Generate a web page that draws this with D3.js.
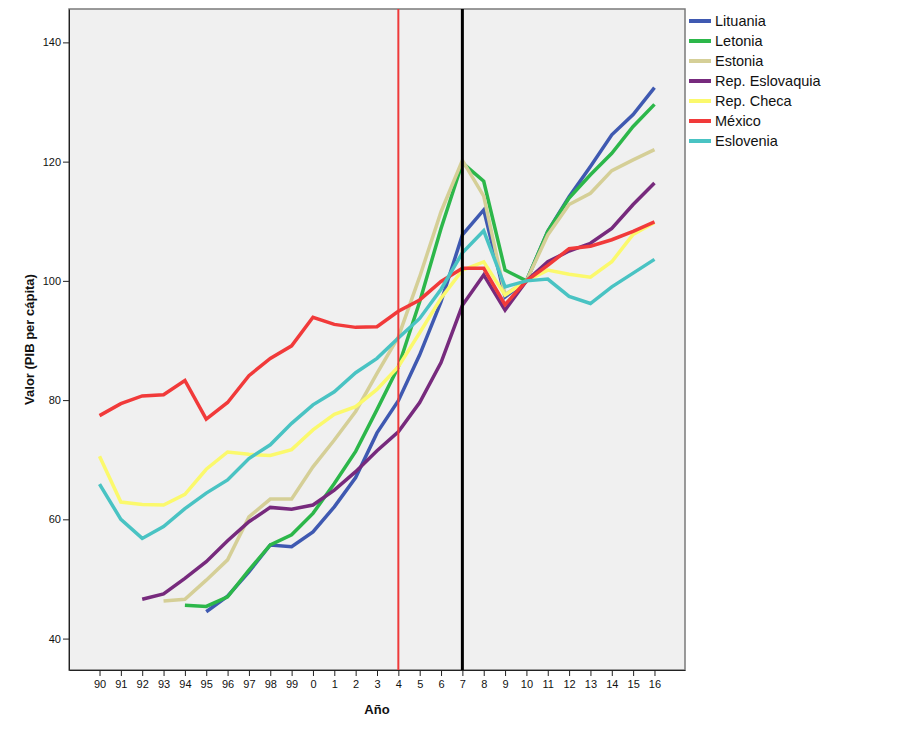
<!DOCTYPE html>
<html>
<head>
<meta charset="utf-8">
<script src="https://cdn.jsdelivr.net/npm/d3@7"></script>
<style>
  body { margin: 0; background: #fff; }
  svg { display: block; font-family: "Liberation Sans", Arial, sans-serif; }
</style>
</head>
<body>
<svg id="chart"></svg>
<script>
// categories (year labels)
const years = ["90","91","92","93","94","95","96","97","98","99","0","1","2","3","4","5","6","7","8","9","10","11","12","13","14","15","16"]

// series values (null = no data)
const lituania = [null,null,null,null,null,44.5,47.1,51.2,55.7,55.4,57.9,62.1,67.0,74.5,79.9,87.6,96.5,107.7,111.9,97.3,100,108.3,114.1,119.2,124.5,127.9,132.4]
const letonia = [null,null,null,null,45.6,45.4,47.0,51.5,55.7,57.4,61.0,66.0,71.4,78.4,85.6,96.5,108.8,119.8,116.7,101.8,100,108.3,113.9,117.8,121.4,125.9,129.6]
const estonia = [null,null,null,46.3,46.6,49.8,53.2,60.4,63.4,63.4,68.8,73.3,78.1,84.5,90.6,100.7,111.6,120.2,114.2,97.7,100,107.7,112.8,114.7,118.5,120.3,122.0]
const eslovaquia = [null,null,46.6,47.5,50.1,52.9,56.4,59.6,62.0,61.7,62.4,64.9,68.0,71.5,74.7,79.6,86.3,95.9,101.0,95.1,100,103.2,105.0,106.3,108.8,112.8,116.4]
const checa = [70.6,62.9,62.5,62.4,64.2,68.4,71.3,70.9,70.7,71.7,75.0,77.6,78.9,81.8,85.6,91.3,97.1,101.8,103.2,97.6,100,101.8,101.1,100.6,103.2,107.8,109.8]
const mexico = [77.4,79.4,80.7,80.9,83.3,76.8,79.6,84.1,87.0,89.1,93.9,92.7,92.2,92.3,94.9,96.8,99.9,102.1,102.1,96.0,100,102.6,105.4,105.8,106.9,108.3,109.9]
const eslovenia = [65.9,60.0,56.8,58.8,61.8,64.4,66.6,70.2,72.5,76.1,79.2,81.4,84.6,87.0,90.4,93.7,98.6,104.7,108.4,99.0,100,100.3,97.4,96.2,99.0,101.3,103.6]

const seriesNames = ["Lituania","Letonia","Estonia","Rep. Eslovaquia","Rep. Checa","México","Eslovenia"]
const seriesValues = [lituania, letonia, estonia, eslovaquia, checa, mexico, eslovenia]
const seriesColors = ["#3f59b1","#2cb74a","#d5cf97","#772a7d","#fbf96c","#f13a3a","#49c3c3"]

// y tick labels and reference lines
const yTicks = [40, 60, 80, 100, 120, 140]
const refLines = [{ year: "4", color: "#ee3a3a", width: 2 }, { year: "7", color: "#000000", width: 3 }]

const width = 916
const height = 734
const plot = { left: 69, right: 685, top: 9, bottom: 670 }

const svg = d3.select("#chart").attr("width", width).attr("height", height)

const xScale = d3.scalePoint()
  .domain(years)
  .range([plot.left, plot.right])
  .padding(1.43)

const yScale = d3.scaleLinear()
  .domain([34.73, 145.6])
  .range([plot.bottom, plot.top])

// plot background
svg.append("rect")
  .attr("x", plot.left)
  .attr("y", plot.top)
  .attr("width", plot.right - plot.left)
  .attr("height", plot.bottom - plot.top)
  .style("fill", "#f0f0f0")
  .style("stroke", "#7a7a7a")
  .style("stroke-width", 1.5)

// axes
const yAxis = svg.append("g")
  .attr("transform", `translate(${plot.left},0)`)
  .call(d3.axisLeft(yScale).tickValues(yTicks).tickSize(6).tickSizeOuter(0).tickPadding(2))
yAxis.select(".domain").style("stroke", "#222")
yAxis.selectAll(".tick line").style("stroke", "#222")
yAxis.selectAll("text").style("font-size", "11px").style("fill", "#111")

const xAxis = svg.append("g")
  .attr("transform", `translate(0,${plot.bottom})`)
  .call(d3.axisBottom(xScale).tickSize(6).tickSizeOuter(0).tickPadding(4))
xAxis.select(".domain").style("stroke", "#222")
xAxis.selectAll(".tick line").style("stroke", "#222")
xAxis.selectAll("text").style("font-size", "11px").style("fill", "#111")

// series lines
const line = d3.line()
  .defined(d => d != null)
  .x((d, i) => xScale(years[i]))
  .y(d => yScale(d))

seriesValues.forEach((vals, k) => {
  svg.append("path")
    .datum(vals)
    .attr("d", line)
    .style("fill", "none")
    .style("stroke", seriesColors[k])
    .style("stroke-width", 3.5)
    .style("stroke-linejoin", "miter")
})

// vertical reference lines
refLines.forEach(r => {
  svg.append("line")
    .attr("x1", xScale(r.year))
    .attr("x2", xScale(r.year))
    .attr("y1", plot.top)
    .attr("y2", plot.bottom)
    .style("stroke", r.color)
    .style("stroke-width", r.width)
})

// axis titles
svg.append("text")
  .attr("x", (plot.left + plot.right) / 2)
  .attr("y", 714)
  .attr("text-anchor", "middle")
  .style("font-size", "13px")
  .style("font-weight", "bold")
  .style("fill", "#111")
  .text("Año")

svg.append("text")
  .attr("transform", `translate(34,${(plot.top + plot.bottom) / 2}) rotate(-90)`)
  .attr("text-anchor", "middle")
  .style("font-size", "13px")
  .style("font-weight", "bold")
  .style("fill", "#111")
  .text("Valor (PIB per cápita)")

// legend
const legend = svg.append("g")
  .attr("transform", `translate(689,21)`)

legend.selectAll(".legend-item")
  .data(seriesNames)
  .enter().append("g")
  .attr("class", "legend-item")
  .attr("transform", (d, i) => `translate(0, ${i * 20})`)
  .each(function(d, i) {
    const g = d3.select(this)
    g.append("line")
      .attr("x1", 0)
      .attr("x2", 22)
      .attr("y1", 0)
      .attr("y2", 0)
      .style("stroke", seriesColors[i])
      .style("stroke-width", 4)
    g.append("text")
      .attr("x", 26)
      .attr("y", 0)
      .attr("dy", "0.36em")
      .style("font-size", "14.5px")
      .style("fill", "#111")
      .text(d)
  })
</script>
</body>
</html>
